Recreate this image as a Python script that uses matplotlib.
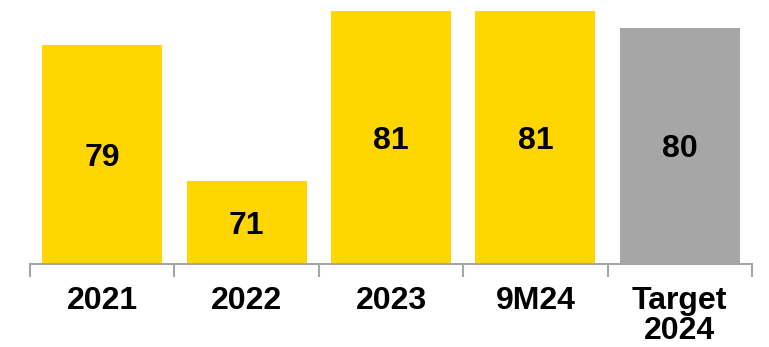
import matplotlib
matplotlib.use("Agg")
import matplotlib.pyplot as plt
import matplotlib.transforms as mtransforms
import numpy as np

categories = ["2021", "2022", "2023", "9M24", "Target\n2024"]
values = [79, 71, 81, 81, 80]
colors = ["#FFD600", "#FFD600", "#FFD600", "#FFD600", "#A6A6A6"]

plt.rcParams["font.family"] = ["Liberation Sans", "DejaVu Sans"]

fig = plt.figure(figsize=(7.69, 3.47), dpi=100)
ax = fig.add_axes([30 / 769, 1 - 263.7 / 347, 722 / 769, 263.7 / 347])

x = np.arange(len(categories))
ymin, ymax = 66.1, 81.65
bars = ax.bar(x, [v - ymin for v in values], bottom=ymin, width=0.83,
              color=colors, zorder=2)

ax.set_xlim(-0.5, len(categories) - 0.5)
ax.set_ylim(ymin, ymax)

# value labels sit in the middle of each bar
shift = mtransforms.offset_copy(ax.transData, fig=fig, x=0, y=-2.5, units="points")
for xi, v in zip(x, values):
    ax.text(xi, (ymin + v) / 2, f"{v}", ha="center", va="center",
            fontsize=23, fontweight="bold", color="black", zorder=3,
            transform=shift)

for side in ["left", "right", "top"]:
    ax.spines[side].set_visible(False)
ax.spines["bottom"].set_color("#A6A6A6")
ax.spines["bottom"].set_linewidth(1.5)
ax.set_yticks([])

# boundary ticks between categories, labels centred beneath each bar
ax.set_xticks(np.arange(-0.5, len(categories), 1.0))
ax.set_xticklabels([])
ax.tick_params(axis="x", which="major", length=9, width=1.5,
               color="#A6A6A6", direction="out")
ax.set_xticks(x, minor=True)
ax.set_xticklabels(categories, minor=True, fontsize=23, fontweight="bold",
                   linespacing=1.0)
ax.tick_params(axis="x", which="minor", length=0, pad=16)

fig.savefig("out.png", dpi=100)
